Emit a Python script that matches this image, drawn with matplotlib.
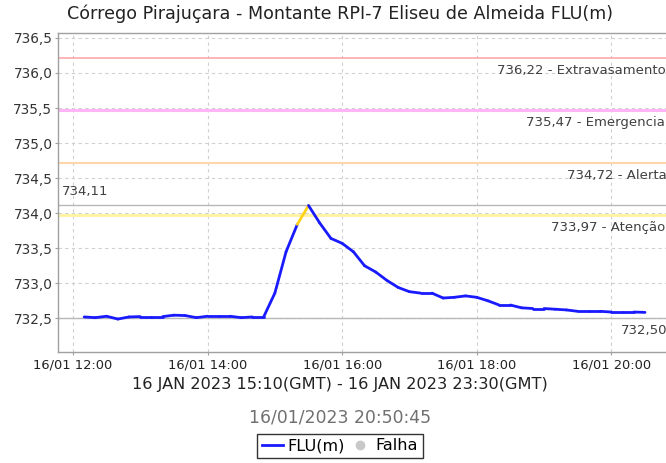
import matplotlib
matplotlib.use("Agg")
import matplotlib.pyplot as plt
import matplotlib.dates as mdates
from matplotlib.lines import Line2D
import numpy as np
import datetime as dt

plt.rcParams['font.family'] = ['DejaVu Sans']

title = "Córrego Pirajuçara - Montante RPI-7 Eliseu de Almeida FLU(m)"
subtitle = "16 JAN 2023 15:10(GMT) - 16 JAN 2023 23:30(GMT)"
timestamp = "16/01/2023 20:50:45"

start_time = dt.datetime(2023, 1, 16, 12, 10)
step_minutes = 10
flu_values = [
    732.52, 732.51, 732.53, 732.49, 732.52, 732.525, 732.525, 732.525, 732.545, 732.54,
    732.51, 732.53, 732.53, 732.53, 732.51, 732.52, 732.52, 732.86, 733.45, 733.84,
    734.11, 733.86, 733.64, 733.57, 733.45, 733.25, 733.16, 733.04, 732.94, 732.88,
    732.86, 732.86, 732.79, 732.80, 732.82, 732.80, 732.75, 732.69, 732.69, 732.65,
    732.64, 732.64, 732.63, 732.62, 732.60, 732.60, 732.60, 732.59, 732.59, 732.59,
    732.585,
]
times = [start_time + dt.timedelta(minutes=step_minutes * i) for i in range(len(flu_values))]

threshold_values = [736.22, 735.47, 734.72, 733.97]
threshold_labels = ["736,22 - Extravasamento", "735,47 - Emergencia", "734,72 - Alerta", "733,97 - Atenção"]
threshold_colors = ["#ffa8a8", "#ffb4f6", "#ffd6aa", "#fff2a0"]
threshold_widths = [1.2, 2.2, 1.5, 2.0]
max_value = 734.11
min_value = 732.50
max_label = "734,11"
min_label = "732,50"

y_ticks = [732.5, 733.0, 733.5, 734.0, 734.5, 735.0, 735.5, 736.0, 736.5]
x_tick_hours = [12, 14, 16, 18, 20]

W, H = 666, 463
fig = plt.figure(figsize=(W / 100, H / 100), dpi=100)
ax_left, ax_right, ax_top, ax_bottom = 58, 680, 33, 352
ax = fig.add_axes([ax_left / W, 1 - ax_bottom / H, (ax_right - ax_left) / W, (ax_bottom - ax_top) / H])

xmin = dt.datetime(2023, 1, 16, 11, 46, 40)
xmax = xmin + dt.timedelta(hours=(ax_right - ax_left) / 67.3)
ax.set_xlim(xmin, xmax)
ax.set_ylim(732.02, 736.57)

ax.set_yticks(y_ticks)
ax.set_yticklabels([f"{v:.1f}".replace('.', ',') for v in y_ticks])
xt = [dt.datetime(2023, 1, 16, h, 0) for h in x_tick_hours]
ax.set_xticks(xt)
ax.set_xticklabels([t.strftime("%d/%m %H:%M") for t in xt])
ax.tick_params(axis='y', labelsize=9.8, colors='#a0a0a0', length=2, pad=2, labelcolor='#333333')
ax.tick_params(axis='x', labelsize=9.4, colors='#a0a0a0', length=2, pad=3, labelcolor='#222222')

ax.grid(True, color='#d0d0d0', linestyle=(0, (3, 3)), linewidth=0.8)
ax.set_axisbelow(True)
for s in ['left', 'bottom', 'top']:
    ax.spines[s].set_color('#a0a0a0')
    ax.spines[s].set_linewidth(1.0)
ax.spines['right'].set_visible(False)

for v, c, lw in zip(threshold_values, threshold_colors, threshold_widths):
    ax.axhline(v, color=c, linewidth=lw, zorder=2)
ax.axhline(max_value, color='#b8b8b8', linewidth=1.0, zorder=2)
ax.axhline(min_value, color='#b8b8b8', linewidth=1.0, zorder=2)

# threshold labels
label_fs = 9.5
label_x_px = [497, 526, 567, 551]
label_y_offsets = [-0.19, -0.18, -0.18, -0.18]
for v, lab, xp, off in zip(threshold_values, threshold_labels, label_x_px, label_y_offsets):
    xd = xmin + dt.timedelta(hours=(xp - ax_left) / 67.3)
    ax.text(xd, v + off, lab, fontsize=label_fs, color='#404040', ha='left', va='center', zorder=3)
xd = xmin + dt.timedelta(hours=(621 - ax_left) / 67.3)
ax.text(xd, min_value - 0.18, min_label, fontsize=label_fs, color='#404040', ha='left', va='center')
xd = xmin + dt.timedelta(hours=(62 - ax_left) / 67.3)
ax.text(xd, max_value + 0.2, max_label, fontsize=label_fs, color='#404040', ha='left', va='center')

# data line: segment colour from end point level
tn = mdates.date2num(times)
for i in range(len(flu_values) - 1):
    col = '#ffd21a' if flu_values[i + 1] > threshold_values[3] else '#1a1aff'
    ax.plot(tn[i:i + 2], flu_values[i:i + 2], color=col, linewidth=2.0, solid_capstyle='round', zorder=4)

cx = 340 / W
fig.text(cx, 1 - 14 / H, title, ha='center', va='center', fontsize=12.6, color='#222222')
fig.text(cx, 1 - 385 / H, subtitle, ha='center', va='center', fontsize=11.6, color='#222222')
fig.text(cx, 1 - 418 / H, timestamp, ha='center', va='center', fontsize=12.4, color='#707070')

handles = [Line2D([0], [0], color='#1a1aff', linewidth=2.0),
           Line2D([0], [0], color='#c8c8c8', marker='o', linestyle='None', markersize=6)]
leg = fig.legend(handles, ["FLU(m)", "Falha"], loc='center', bbox_to_anchor=(cx, 1 - 446 / H),
                 ncol=2, fontsize=11.6, frameon=True, fancybox=False, handlelength=1.3,
                 handletextpad=0.3, columnspacing=0.3, borderpad=0.3, borderaxespad=0)
leg.get_frame().set_edgecolor('black')
leg.get_frame().set_linewidth(1.0)

fig.savefig("out.png", dpi=100)
